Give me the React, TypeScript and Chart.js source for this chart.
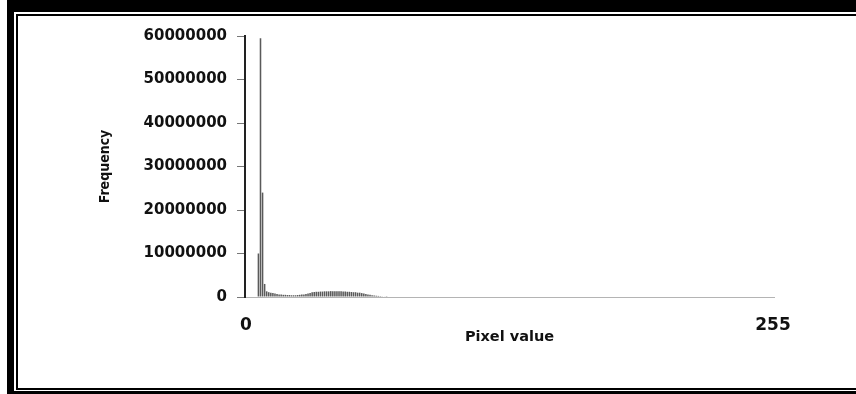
import React, { useEffect, useRef } from "react";
import { Chart, registerables } from "chart.js";

Chart.register(...registerables);

// Pixel values 0..255 (categories)
const pixelValues: string[] = Array.from({ length: 256 }, (_, i) => String(i));

// Frequency per pixel value
const frequency: number[] = [
  0, 0, 0, 0, 0, 0, 10000000, 59500000, 24000000,
  3000000, 1300000, 1100000, 1000000, 900000, 800000, 700000, 600000, 550000, 500000,
  500000, 450000, 450000, 400000, 400000, 400000, 450000, 500000, 550000, 600000,
  700000, 800000, 900000, 1100000, 1150000, 1200000, 1200000, 1250000, 1250000, 1300000,
  1300000, 1300000, 1350000, 1350000, 1300000, 1300000, 1300000, 1300000, 1250000, 1250000,
  1200000, 1200000, 1150000, 1100000, 1100000, 1000000, 1000000, 900000, 800000, 700000,
  600000, 500000, 400000, 350000, 300000, 250000, 200000, 150000, 100000, 50000,
  0, 0, 0, 0, 0, 0, 0, 0, 0, 0,
  0, 0, 0, 0, 0, 0, 0, 0, 0, 0,
  0, 0, 0, 0, 0, 0, 0, 0, 0, 0,
  0, 0, 0, 0, 0, 0, 0, 0, 0, 0,
  0, 0, 0, 0, 0, 0, 0, 0, 0, 0,
  0, 0, 0, 0, 0, 0, 0, 0, 0, 0,
  0, 0, 0, 0, 0, 0, 0, 0, 0, 0,
  0, 0, 0, 0, 0, 0, 0, 0, 0, 0,
  0, 0, 0, 0, 0, 0, 0, 0, 0, 0,
  0, 0, 0, 0, 0, 0, 0, 0, 0, 0,
  0, 0, 0, 0, 0, 0, 0, 0, 0, 0,
  0, 0, 0, 0, 0, 0, 0, 0, 0, 0,
  0, 0, 0, 0, 0, 0, 0, 0, 0, 0,
  0, 0, 0, 0, 0, 0, 0, 0, 0, 0,
  0, 0, 0, 0, 0, 0, 0, 0, 0, 0,
  0, 0, 0, 0, 0, 0, 0, 0, 0, 0,
  0, 0, 0, 0, 0, 0, 0, 0, 0, 0,
  0, 0, 0, 0, 0, 0, 0, 0, 0, 0,
  0, 0, 0, 0, 0, 0, 0,
];

const yTicks: number[] = [0, 10000000, 20000000, 30000000, 40000000, 50000000, 60000000];
const xShownLabels: string[] = ["0", "255"];
const xTitle = "Pixel value";
const yTitle = "Frequency";

export default function App() {
  const canvasRef = useRef<HTMLCanvasElement | null>(null);

  useEffect(() => {
    document.body.style.margin = "0";
    const canvas = canvasRef.current;
    if (!canvas) return;
    const chart = new Chart(canvas, {
      type: "bar",
      data: {
        labels: pixelValues,
        datasets: [
          {
            data: frequency,
            backgroundColor: "#5a5a5a",
            borderWidth: 0,
            barPercentage: 0.75,
            categoryPercentage: 1,
          },
        ],
      },
      options: {
        animation: false,
        responsive: false,
        maintainAspectRatio: false,
        layout: { padding: { left: 85, right: 82, top: 36, bottom: 41 } },
        plugins: {
          legend: { display: false },
          tooltip: { enabled: false },
        },
        scales: {
          x: {
            type: "category",
            grid: { display: false },
            border: { display: true, color: "#b4b4b4", width: 1 },
            afterFit: (scale: any) => {
              scale.height = 56;
            },
            ticks: {
              autoSkip: false,
              maxRotation: 0,
              minRotation: 0,
              padding: 10,
              color: "#111",
              font: { family: "DejaVu Sans", size: 17, weight: "bold" },
              callback: function (_v: any, index: number) {
                const lab = pixelValues[index];
                return xShownLabels.includes(lab) ? lab : "";
              },
            },
            title: {
              display: true,
              text: xTitle,
              color: "#111",
              font: { family: "DejaVu Sans", size: 14.5, weight: "bold" },
              padding: { top: 0, bottom: 7 },
            },
          },
          y: {
            min: 0,
            max: 60000000,
            afterFit: (scale: any) => {
              scale.width = 160;
            },
            afterBuildTicks: (scale: any) => {
              scale.ticks = yTicks.map((v) => ({ value: v }));
            },
            grid: {
              display: true,
              drawOnChartArea: false,
              drawTicks: true,
              tickLength: 8,
              color: "#777",
              lineWidth: 1,
            },
            border: { display: true, color: "#222", width: 2 },
            ticks: {
              padding: 10,
              color: "#111",
              font: { family: "DejaVu Sans", size: 15, weight: "bold" },
              callback: (v: any) => String(v),
            },
            title: {
              display: true,
              text: yTitle,
              color: "#111",
              font: { family: "DejaVu Sans Condensed", size: 14, weight: "bold" },
              padding: { top: 12, bottom: 0 },
            },
          },
        },
      },
    });
    return () => chart.destroy();
  }, []);

  return (
    <div style={{ position: "relative", width: 856, height: 394, overflow: "hidden", background: "#fff" }}>
      <div
        style={{
          position: "absolute",
          left: 7,
          top: 0,
          width: 900,
          height: 394,
          boxSizing: "border-box",
          borderLeft: "7px solid #000",
          borderTop: "12px solid #000",
          borderBottom: "3px solid #000",
        }}
      />
      <div
        style={{
          position: "absolute",
          left: 16,
          top: 14,
          width: 900,
          height: 376,
          boxSizing: "border-box",
          border: "2px solid #000",
        }}
      />
      <canvas
        ref={canvasRef}
        width={856}
        height={394}
        style={{ position: "absolute", left: 0, top: 0 }}
      />
    </div>
  );
}
